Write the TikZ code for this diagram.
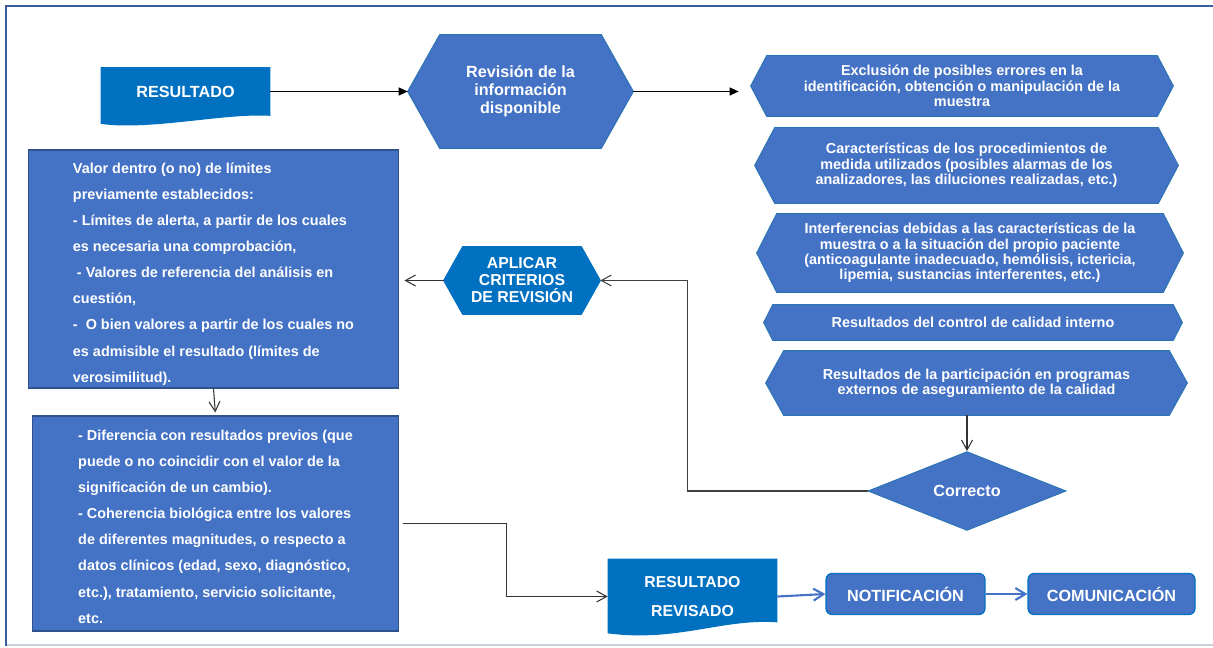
\documentclass[tikz,border=0pt]{standalone}
\usepackage{fontspec}
\setmainfont{Liberation Sans}
\usetikzlibrary{arrows.meta,calc,backgrounds,shapes.geometric}

\definecolor{azulmedio}{HTML}{4472C4}
\definecolor{azulfuerte}{HTML}{0070C0}
\definecolor{azulborde}{HTML}{2E75B6}
\definecolor{azuloscuro}{HTML}{2F528F}
\definecolor{marco}{HTML}{3A5C9A}
\definecolor{gris}{HTML}{C8D0DC}

% contorno hexagonal alrededor de un nodo (#2 = entrada de la punta)
\newcommand{\hexa}[2]{(#1.west) -- ($(#1.north west)+(#2,0)$) -- ($(#1.north east)+(-#2,0)$) -- (#1.east) -- ($(#1.south east)+(-#2,0)$) -- ($(#1.south west)+(#2,0)$) -- cycle}

\tikzset{
  texto/.style={inner sep=0pt, text=white, align=center},
  chico/.style={texto, font=\bfseries\fontsize{8.2}{8.8}\selectfont},
  grande/.style={texto, font=\bfseries\fontsize{9.2}{10.2}\selectfont},
  lista/.style={texto, align=left, draw=azuloscuro, fill=azulmedio, line width=0.6pt,
    font=\bfseries\fontsize{8.2}{14.85}\selectfont},
  hexfill/.style={fill=azulmedio, draw=azulborde, line width=0.6pt},
  hexfuerte/.style={fill=azulfuerte, draw=azulfuerte, line width=0.6pt},
  redondo/.style={grande, rounded corners=0.12cm, fill=azulmedio, draw=azulfuerte, line width=0.7pt},
  flecha/.style={draw=black!80, line width=0.6pt, -{Straight Barb[length=0.2cm,width=0.22cm]}},
  llena/.style={draw=black, line width=0.6pt, -{Triangle[length=0.18cm,width=0.16cm]}},
  azul/.style={draw=azulmedio, line width=1.2pt, -{Straight Barb[length=0.2cm,width=0.24cm]}}
}

\begin{document}
\begin{tikzpicture}[x=0.02cm, y=-0.02cm]
  \useasboundingbox (0,0) rectangle (1213,648);

  % --- marco ---
  \draw[gris, line width=0.9pt] (6,645) -- (1213,645);
  \draw[marco, line width=1.6pt] (6,646) -- (6,6) -- (1213,6);

  % --- fila superior ---
  \node[grande, minimum width=3.38cm, minimum height=0.96cm] (res) at (185.5,91.5) {RESULTADO};
  \node[grande, minimum width=4.5cm, minimum height=2.26cm] (rev) at (520.5,91.5)
    {Revisión de la\\información\\disponible};

  % --- aspectos a revisar (derecha) ---
  \node[chico, minimum width=8.44cm, minimum height=1.2cm] (exc) at (962,86)
    {Exclusión de posibles errores en la\\identificación, obtención o manipulación de la\\muestra};
  \node[chico, minimum width=8.46cm, minimum height=1.5cm] (car) at (966.5,165.5)
    {Características de los procedimientos de\\medida utilizados (posibles alarmas de los\\analizadores, las diluciones realizadas, etc.)};
  \node[chico, minimum width=8.52cm, minimum height=1.56cm] (int) at (970,253)
    {Interferencias debidas a las características de la\\muestra o a la situación del propio paciente\\(anticoagulante inadecuado, hemólisis, ictericia,\\lipemia, sustancias interferentes, etc.)};
  \node[chico, minimum width=8.36cm, minimum height=0.7cm] (qc) at (973,322.5)
    {Resultados del control de calidad interno};
  \node[chico, minimum width=8.42cm, minimum height=1.28cm] (ext) at (976.5,383)
    {Resultados de la participación en programas\\externos de aseguramiento de la calidad};

  \node[grande, shape=diamond, fill=azulmedio, draw=azulborde, line width=0.6pt,
    minimum width=3.96cm, minimum height=1.4cm] (corr) at (967,491) {Correcto};

  % --- criterios (izquierda) ---
  \node[grande, minimum width=3.12cm, minimum height=1.34cm,
    font=\bfseries\fontsize{9}{9.7}\selectfont] (apl) at (522,280.5)
    {APLICAR\\CRITERIOS\\DE REVISIÓN};

  \node[lista, minimum width=7.42cm, minimum height=4.76cm] (crit) at (213.5,269)
    {\rule{0pt}{11.7pt}Valor dentro (o no) de límites\\
     previamente establecidos:\\
     - Límites de alerta, a partir de los cuales\\
     es necesaria una comprobación,\\
     \ - Valores de referencia del análisis en\\
     cuestión,\\
     - \ O bien valores a partir de los cuales no\\
     es admisible el resultado (límites de\\
     verosimilitud).};

  \node[lista, minimum width=7.34cm, minimum height=4.3cm] (diff) at (215.5,523.5)
    {\rule{0pt}{9.5pt}- Diferencia con resultados previos (que\\
     puede o no coincidir con el valor de la\\
     significación de un cambio).\\
     - Coherencia biológica entre los valores\\
     de diferentes magnitudes, o respecto a\\
     datos clínicos (edad, sexo, diagnóstico,\\
     etc.), tratamiento, servicio solicitante,\\
     etc.};

  % --- fila inferior ---
  \node[grande, minimum width=3.38cm, minimum height=1.5cm,
    font=\bfseries\fontsize{9}{16.5}\selectfont] (rrev) at (692.5,596.5)
    {RESULTADO\\REVISADO};
  \node[redondo, minimum width=3.18cm, minimum height=0.82cm] (notif) at (905.5,594) {NOTIFICACIÓN};
  \node[redondo, minimum width=3.34cm, minimum height=0.82cm] (com) at (1111.5,594) {COMUNICACIÓN};

  % --- formas de fondo ---
  \begin{scope}[on background layer]
    \fill[azulfuerte] (res.north west) -- (res.north east) -- (res.south east)
      .. controls ($(res.south east)+(-45,-3)$) and ($(res.south west)+(49,15)$) .. ($(res.south west)+(0,8)$) -- cycle;
    \fill[azulfuerte] (rrev.north west) -- (rrev.north east) -- ($(rrev.south east)+(0,-12)$)
      .. controls ($(rrev.south east)+(-55,-16)$) and ($(rrev.south west)+(70,8)$) .. ($(rrev.south west)+(0,-1)$) -- cycle;
    \path[hexfill] \hexa{rev}{32};
    \path[hexfill] \hexa{exc}{16};
    \path[hexfill] \hexa{car}{20};
    \path[hexfill] \hexa{int}{20};
    \path[hexfill] \hexa{qc}{9};
    \path[hexfill] \hexa{ext}{18};
    \path[hexfuerte] \hexa{apl}{19};
  \end{scope}

  % --- conectores ---
  \draw[llena] (res.east) -- (rev.west);
  \draw[llena, shorten >=0.24cm] (rev.east) -- (rev.east -| exc.west);
  \draw[flecha] (corr.north |- ext.south) -- (corr.north);
  \draw[flecha, draw=black!75] (corr.west) -- ++(-180,0) |- (apl.east);
  \draw[flecha, shorten >=0.1cm] (apl.west) -- (apl.west -| crit.east);
  \draw[flecha, shorten >=0.06cm] (crit.south) -- (diff.north);
  \draw[flecha, shorten <=0.08cm] (diff.east) -- ++(107,0) |- (rrev.west);
  \draw[azul] (rrev.east) -- (notif.west);
  \draw[azul] (notif.east) -- (com.west);
\end{tikzpicture}
\end{document}
